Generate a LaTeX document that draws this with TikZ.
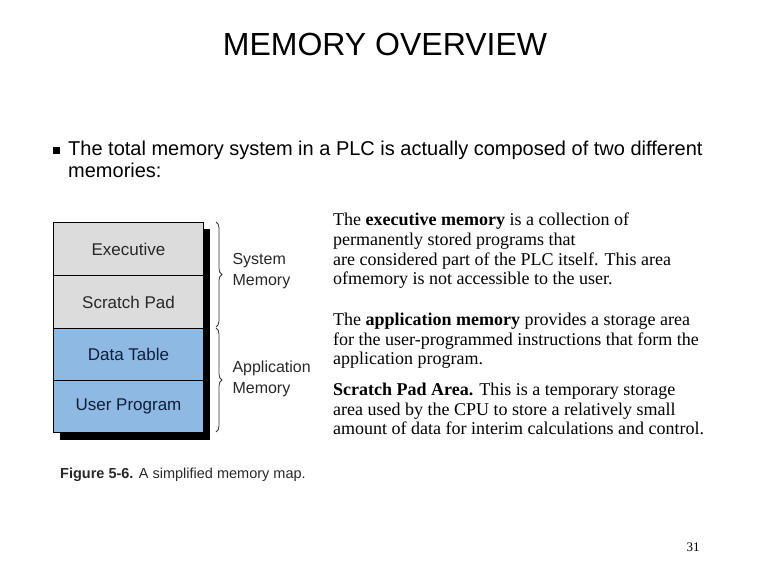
\documentclass[tikz,border=0pt]{standalone}
\usepackage{fontspec}
\setmainfont{Liberation Serif}
\setsansfont{Liberation Sans}
\usetikzlibrary{decorations.pathreplacing}
\definecolor{memgray}{RGB}{220,220,220}
\definecolor{memblue}{RGB}{141,185,226}
\definecolor{navytxt}{RGB}{15,30,60}
\definecolor{graytxt}{RGB}{40,40,40}
\tikzset{
  cell/.style={draw=black, line width=1pt, minimum width=150pt, minimum height=53pt, inner sep=0pt, font=\sffamily\fontsize{17}{19}\selectfont},
  graycell/.style={cell, fill=memgray, text=graytxt},
  bluecell/.style={cell, fill=memblue, text=navytxt},
  brc/.style={decorate, decoration={brace, amplitude=6pt}, draw=black!80, line width=0.8pt},
  brlabel/.style={anchor=west, align=left, font=\sffamily\fontsize{16}{21}\selectfont, text=graytxt},
  para/.style={anchor=north west, align=left, inner sep=0pt, font=\rmfamily\fontsize{18}{19.6}\selectfont},
}
\begin{document}
\begin{tikzpicture}[x=1pt,y=-1pt]
\useasboundingbox (0,0) rectangle (769,576);
% title
\node[anchor=base, font=\sffamily\fontsize{32}{36}\selectfont] (title) at (385,55) {MEMORY OVERVIEW};
% bullet
\node[fill=black, minimum size=7pt, inner sep=0pt] (bul) at (56,150) {};
\node[anchor=north west, inner sep=0pt, align=left, font=\sffamily\fontsize{20}{22}\selectfont] (intro) at (68,141)
  {The total memory system in a PLC is actually composed of two different\\memories:};
% shadow
\fill[black] (60,229) rectangle (210,440);
% memory cells
\node[graycell, anchor=north west] (exe) at (53,222) {Executive};
\node[graycell, anchor=north west] (scr) at (53,275) {Scratch Pad};
\node[bluecell, anchor=north west, minimum height=52pt] (dat) at (53,328) {Data Table};
\node[bluecell, anchor=north west, minimum height=52pt] (usr) at (53,380) {User Program};
% braces
\coordinate (s1) at (216,222);
\coordinate (s2) at (216,327);
\coordinate (a1) at (216,328);
\coordinate (a2) at (216,432);
\draw[brc] (s1) -- (s2);
\draw[brc] (a1) -- (a2);
\node[brlabel] (sysl) at (229,271) {System\\Memory};
\node[brlabel] (appl) at (229,379) {Application\\Memory};
% caption
\node[anchor=base west, inner sep=0pt, font=\sffamily\fontsize{14.5}{16}\selectfont, text=graytxt] (cap) at (60,478)
  {\textbf{Figure 5-6.} A simplified memory map.};
% right texts
\node[para] (p1) at (333,213)
  {The \textbf{executive memory} is a collection of\\permanently stored programs that\\are considered part of the PLC itself. This area\\ofmemory is not accessible to the user.};
\node[para] (p2) at (333,313)
  {The \textbf{application memory} provides a storage area\\for the user-programmed instructions that form the\\application program.};
\node[para] (p3) at (333,383)
  {\textbf{Scratch Pad Area.} This is a temporary storage\\area used by the CPU to store a relatively small\\amount of data for interim calculations and control.};
% page number
\node[anchor=base, font=\rmfamily\fontsize{13}{15}\selectfont] (pg) at (693,551) {31};
\end{tikzpicture}
\end{document}
